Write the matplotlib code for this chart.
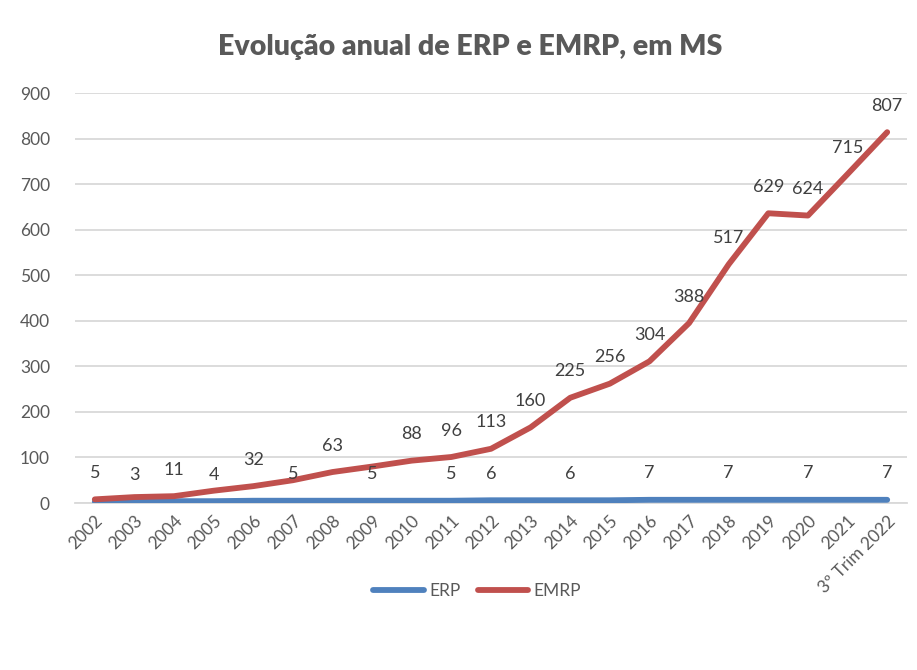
import matplotlib
matplotlib.use("Agg")
import matplotlib.pyplot as plt
import numpy as np

# categories
years = [str(y) for y in range(2002, 2022)] + ["3º Trim 2022"]

# series values (EMRP is drawn stacked on top of ERP, as in the original chart)
erp = [3, 3, 4, 4, 5, 5, 5, 5, 5, 5, 6, 6, 6, 6, 7, 7, 7, 7, 7, 7, 7]
emrp = [5, 10, 11, 23, 32, 45, 63, 75, 88, 96, 113, 160, 225, 256, 304, 388,
        517, 629, 624, 715, 807]

# which points carry a data label in the original
erp_labeled = ["2003", "2005", "2007", "2009", "2011", "2012", "2014", "2016",
               "2018", "2020", "3º Trim 2022"]
emrp_labeled = ["2002", "2004", "2006", "2008", "2010", "2011", "2012", "2013",
                "2014", "2015", "2016", "2017", "2018", "2019", "2020", "2021",
                "3º Trim 2022"]

yticks = list(range(0, 1000, 100))

C_ERP = "#4F81BD"
C_EMRP = "#C0504D"
C_TXT = "#595959"
C_GRID = "#D9D9D9"
FONT = ["Lato", "DejaVu Sans"]

plt.rcParams["font.family"] = FONT

fig = plt.figure(figsize=(9.17, 6.7), dpi=100)
ax = fig.add_axes([75 / 917, 167 / 670, 832 / 917, 410 / 670])

x = np.arange(len(years))
stack = np.array(erp) + np.array(emrp)

ax.plot(x, erp, color=C_ERP, lw=4.2, solid_capstyle="round", label="ERP", zorder=3)
ax.plot(x, stack, color=C_EMRP, lw=4.2, solid_capstyle="round", label="EMRP", zorder=3)

for i, yr in enumerate(years):
    if yr in erp_labeled:
        ax.annotate(str(erp[i]), (x[i], erp[i]), xytext=(0, 19),
                    textcoords="offset points", ha="center", va="center",
                    fontsize=13, color="#404040")
    if yr in emrp_labeled:
        ax.annotate(str(emrp[i]), (x[i], stack[i]), xytext=(0, 19),
                    textcoords="offset points", ha="center", va="center",
                    fontsize=13, color="#404040")

ax.set_xlim(-0.5, len(years) - 0.5)
ax.set_ylim(0, 900)
ax.set_yticks(yticks)
ax.set_xticks(x)
ax.set_xticklabels(years, rotation=45, ha="right", rotation_mode="anchor")
ax.tick_params(axis="both", length=0, colors=C_TXT, labelsize=12.5)
ax.tick_params(axis="y", pad=18)
ax.tick_params(axis="x", pad=7)
ax.grid(axis="y", color=C_GRID, lw=1.3)
ax.set_axisbelow(True)
for s in ["top", "right", "left"]:
    ax.spines[s].set_visible(False)
ax.spines["bottom"].set_color(C_GRID)
ax.spines["bottom"].set_linewidth(1.3)

fig.text(470 / 917, 1 - 47 / 670, "Evolução anual de ERP e EMRP, em MS",
         ha="center", va="center", fontsize=20.5, fontweight="heavy", color=C_TXT)

fig.legend(loc="center", bbox_to_anchor=(477 / 917, 1 - 591 / 670), ncol=2,
           frameon=False, fontsize=12.5, labelcolor=C_TXT, handlelength=2.9,
           columnspacing=1.0, handletextpad=0.3)

fig.savefig("out.png", dpi=100)
